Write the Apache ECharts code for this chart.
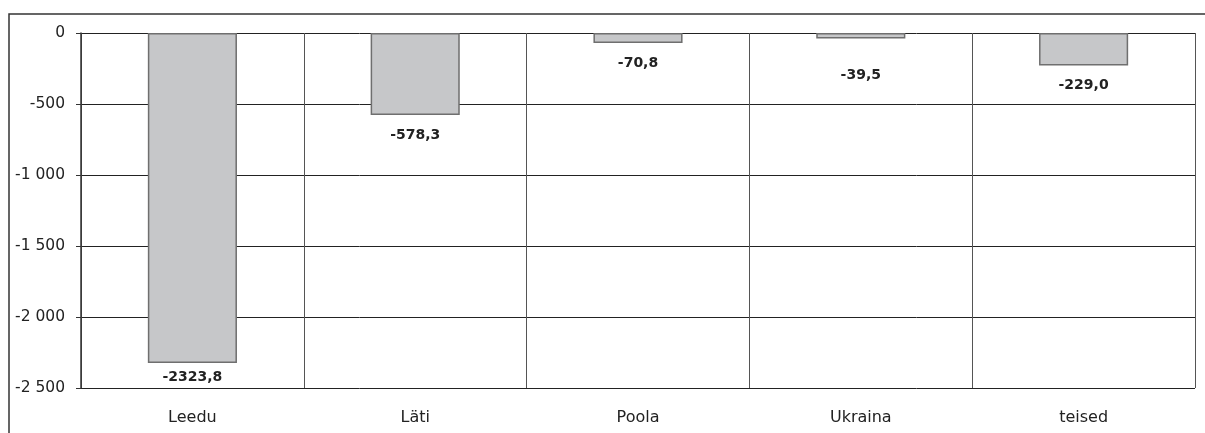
<!DOCTYPE html>
<html>
<head>
<meta charset="utf-8">
<script src="https://cdn.jsdelivr.net/npm/echarts@6/dist/echarts.min.js"></script>
<style>
  html, body { margin: 0; padding: 0; background: #fff; }
  #chart { width: 1205px; height: 433px; }
</style>
</head>
<body>
<div id="chart"></div>
<script>
// andmed
const riigid = ['Leedu', 'Läti', 'Poola', 'Ukraina', 'teised'];
const saldo = [-2323.8, -578.3, -70.8, -39.5, -229.0];
// sildi kaugus tulba otsast (px)
const sildiVahe = [7, 13, 13, 30, 13];

const myChart = echarts.init(document.getElementById('chart'));

function tuhanded(v) {
  // -1000 -> "-1 000"
  let s = String(Math.abs(v)).replace(/\B(?=(\d{3})+(?!\d))/g, ' ');
  return (v < 0 ? '-' : '') + s;
}

const option = {
  animation: false,
  textStyle: { fontFamily: 'DejaVu Sans, sans-serif' },
  graphic: [
    {
      type: 'polyline',
      shape: { points: [[9, 440], [9, 14], [1210, 14]] },
      style: { stroke: '#333', lineWidth: 1.5, fill: null },
      silent: true
    }
  ],
  grid: { left: 81, top: 33, right: 10, bottom: 45, containLabel: false },
  xAxis: {
    type: 'category',
    data: riigid,
    position: 'bottom',
    axisLine: { show: false, onZero: false },
    axisTick: { show: false },
    axisLabel: { color: '#222', fontSize: 16, margin: 22 },
    splitLine: { show: true, lineStyle: { color: '#555', width: 1 } }
  },
  yAxis: {
    type: 'value',
    min: -2500,
    max: 0,
    interval: 500,
    axisLine: { show: true, lineStyle: { color: '#333', width: 1.5 } },
    axisTick: { show: true, length: 5, inside: false, lineStyle: { color: '#333' } },
    axisLabel: { color: '#222', fontSize: 15.5, margin: 16, formatter: tuhanded },
    splitLine: { show: true, lineStyle: { color: '#222', width: 1 } }
  },
  series: [
    {
      type: 'bar',
      barWidth: '40%',
      data: saldo.map((v, i) => ({
        value: v,
        label: { distance: sildiVahe[i] }
      })),
      itemStyle: { color: '#c6c7c9', borderColor: '#6f6f6f', borderWidth: 1.5 },
      label: {
        show: true,
        position: 'bottom',
        fontSize: 14,
        fontWeight: 'bold',
        color: '#222',
        formatter: p => p.value.toFixed(1).replace('.', ',')
      }
    }
  ]
};

myChart.setOption(option);
window.addEventListener('resize', function () { myChart.resize(); });
</script>
</body>
</html>
